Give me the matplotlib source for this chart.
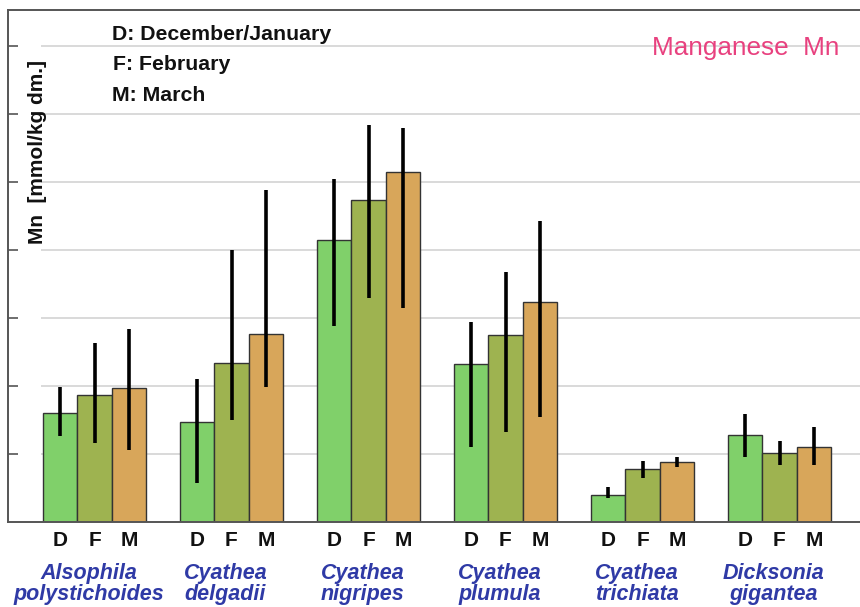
import matplotlib
matplotlib.use("Agg")
import matplotlib.pyplot as plt
import numpy as np

plt.rcParams['font.family'] = ['Liberation Sans', 'DejaVu Sans']

# Species (two-line labels) and sampling months
species = ["Alsophila\npolystichoides", "Cyathea\ndelgadii", "Cyathea\nnigripes",
           "Cyathea\nplumula", "Cyathea\ntrichiata", "Dicksonia\ngigantea"]
months = ["D", "F", "M"]

# Mean Mn content per month (mmol/kg dm.)
mn_dec = [0.800, 0.729, 2.070, 1.160, 0.195, 0.636]
mn_feb = [0.932, 1.165, 2.364, 1.371, 0.386, 0.504]
mn_mar = [0.982, 1.379, 2.570, 1.612, 0.438, 0.548]

# Lower and upper ends of the error bars
low_dec = [0.629, 0.283, 1.438, 0.550, 0.173, 0.474]
high_dec = [0.989, 1.048, 2.516, 1.469, 0.254, 0.790]
low_feb = [0.579, 0.746, 1.641, 0.660, 0.320, 0.415]
high_feb = [1.315, 1.996, 2.913, 1.835, 0.445, 0.592]
low_mar = [0.526, 0.991, 1.568, 0.766, 0.401, 0.415]
high_mar = [1.415, 2.438, 2.891, 2.212, 0.474, 0.695]

y_ticks = [0.5, 1.0, 1.5, 2.0, 2.5, 3.0, 3.5]

colors = ["#80d06a", "#9eb350", "#d8a65a"]

W, H = 860, 607
fig = plt.figure(figsize=(W / 100, H / 100), dpi=100)
ax_left, ax_right = 8 / W, 1.02
ax_bottom, ax_top = (H - 521.5) / H, (H - 10) / H
ax = fig.add_axes([ax_left, ax_bottom, ax_right - ax_left, ax_top - ax_bottom])

x = np.arange(len(species))
width = 0.252
series = [(mn_dec, low_dec, high_dec), (mn_feb, low_feb, high_feb), (mn_mar, low_mar, high_mar)]

x_left_px, x_right_px = 8, 860 * 1.02
px_per_group = 137.0
first_center_px = 94.5
xmin = (x_left_px - first_center_px) / px_per_group
xmax = (x_right_px - first_center_px) / px_per_group
ax.set_xlim(xmin, xmax)
ax.set_ylim(0, (521.5 - 10) / 136.0)

# Light horizontal gridlines that stop short of the left axis
grid_start = (41 - first_center_px) / px_per_group
ax.hlines(y_ticks, grid_start, xmax, colors="#d9d9d9", linewidth=1.4, zorder=0)

tick_pos, tick_lab = [], []
for k, (means, lows, highs) in enumerate(series):
    means = np.array(means)
    err = [means - np.array(lows), np.array(highs) - means]
    pos = x + (k - 1) * width
    ax.bar(pos, means, width=width, color=colors[k], edgecolor="#333333",
           linewidth=1.0, zorder=2)
    ax.errorbar(pos, means, yerr=err, fmt="none", ecolor="black",
                elinewidth=2.6, capsize=0, zorder=3)
    tick_pos.extend(pos)
    tick_lab.extend([months[k]] * len(species))

ax.set_xticks(tick_pos)
ax.set_xticklabels(tick_lab, fontsize=15, fontweight="bold", color="#111111")
ax.tick_params(axis="x", length=0, pad=7)

# Inward ticks on the value axis; the numbers sit beyond the left edge
ax.set_yticks(y_ticks)
ax.set_yticklabels([])
ax.tick_params(axis="y", direction="in", length=7, width=1.2, colors="#555555")

ax.spines["right"].set_visible(False)
for side in ["left", "top", "bottom"]:
    ax.spines[side].set_color("#555555")
    ax.spines[side].set_linewidth(1.4)

# Species names below the month letters, nudged slightly left of each group
name_shift = -6 / px_per_group
for i, name in enumerate(species):
    ax.text(i + name_shift, -(584 - 521.5) / 511.5, name,
            transform=ax.get_xaxis_transform(),
            ha="center", va="center", fontsize=15.5, fontweight="bold",
            fontstyle="italic", color="#2f3aa6", linespacing=1.0)

# Month key
key = ["D: December/January", "F: February", "M: March"]
key_y = [33, 63, 94]
key_x = [112, 113, 112]
for t, yy, xx in zip(key, key_y, key_x):
    fig.text(xx / W, 1 - (yy + 1.5) / H, t, ha="left", va="center",
             fontsize=15.3, fontweight="bold", color="#111111")

fig.text(652 / W, 1 - 48 / H, "Manganese  Mn", ha="left", va="center",
         fontsize=18.8, color="#e8417f")

fig.text(38 / W, 1 - 152 / H, "Mn  [mmol/kg dm.]", rotation=90, ha="center",
         va="center", fontsize=15, fontweight="bold", color="#111111")

fig.savefig("out.png", dpi=100)
